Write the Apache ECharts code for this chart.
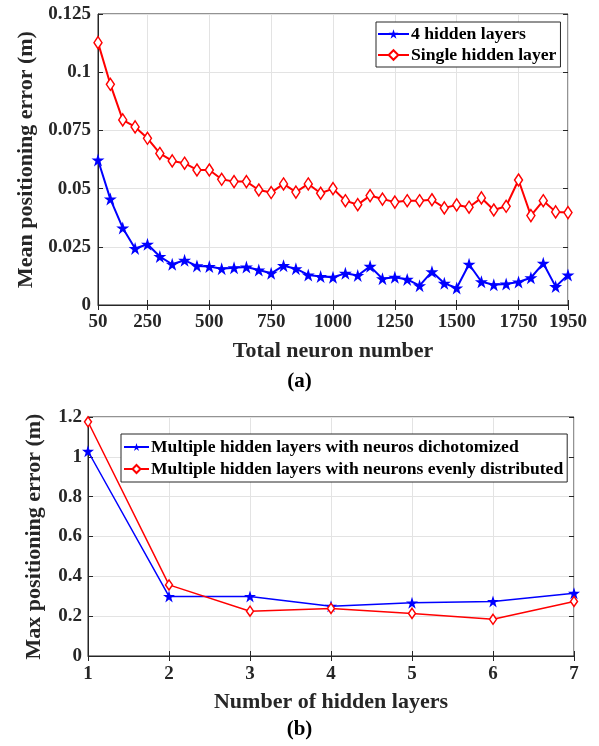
<!DOCTYPE html>
<html>
<head>
<meta charset="utf-8">
<script src="https://cdn.jsdelivr.net/npm/echarts@6/dist/echarts.min.js"></script>
<style>html,body{margin:0;padding:0;background:#fff}#c{width:599px;height:746px}</style>
</head>
<body>
<div id="c"></div>
<script>
// (a) Mean positioning error vs total neuron number
const neuronNumbers = [50,100,150,200,250,300,350,400,450,500,550,600,650,700,750,800,850,900,950,1000,
  1050,1100,1150,1200,1250,1300,1350,1400,1450,1500,1550,1600,1650,1700,1750,1800,1850,1900,1950];
const fourHiddenLayers = [0.0623,0.0455,0.0331,0.0243,0.0261,0.0208,0.0175,0.0192,0.0168,0.0165,
  0.0156,0.0160,0.0163,0.0150,0.0136,0.0169,0.0156,0.0129,0.0122,0.0119,
  0.0136,0.0127,0.0166,0.0113,0.0119,0.0110,0.0083,0.0143,0.0093,0.0073,
  0.0175,0.0100,0.0087,0.0090,0.0099,0.0117,0.0179,0.0079,0.0129];
const singleHiddenLayer = [0.1127,0.0948,0.0795,0.0765,0.0716,0.0651,0.0619,0.0609,0.0580,0.0580,
  0.0540,0.0530,0.0530,0.0494,0.0483,0.0520,0.0485,0.0520,0.0480,0.0500,
  0.0448,0.0431,0.0470,0.0455,0.0442,0.0448,0.0448,0.0452,0.0417,0.0430,
  0.0420,0.0460,0.0408,0.0424,0.0537,0.0384,0.0448,0.0400,0.0397];
const neuronTickLabels = [50,250,500,750,1000,1250,1500,1750,1950];

// (b) Max positioning error vs number of hidden layers
const hiddenLayers = [1,2,3,4,5,6,7];
const dichotomized = [1.028,0.299,0.299,0.250,0.267,0.274,0.315];
const evenlyDistributed = [1.176,0.357,0.225,0.239,0.214,0.184,0.274];

const FONT = '"Liberation Serif", "Times New Roman", serif';
const AX = '#262626';
const GRIDC = '#e3e3e3';
const STAR = 'path://M50,0 L61.2,34.5 L97.6,34.5 L68.2,55.9 L79.4,90.5 L50,69.1 L20.6,90.5 L31.8,55.9 L2.4,34.5 L38.8,34.5 Z';

const showTick = (i, v) => neuronTickLabels.includes(Number(v));
const lbl = {color: AX, fontFamily: FONT, fontWeight: 'bold', fontSize: 19};
const nameStyle = {color: AX, fontFamily: FONT, fontWeight: 'bold', fontSize: 22};

const chart = echarts.init(document.getElementById('c'), null, {renderer: 'canvas'});
chart.setOption({
  animation: false,
  backgroundColor: '#fff',
  title: [
    {text: '(a)', left: 'center', top: 366, textStyle: {fontFamily: FONT, fontWeight: 'bold', fontSize: 21, color: '#000'}},
    {text: '(b)', left: 'center', top: 714, textStyle: {fontFamily: FONT, fontWeight: 'bold', fontSize: 21, color: '#000'}}
  ],
  grid: [
    {left: 98, top: 14, width: 470, height: 291, show: true, borderColor: AX, borderWidth: 1, backgroundColor: '#fff'},
    {left: 88, top: 417, width: 486, height: 239, show: true, borderColor: AX, borderWidth: 1, backgroundColor: '#fff'}
  ],
  legend: [
    {
      data: ['4 hidden layers', 'Single hidden layer'],
      orient: 'vertical', left: 376, top: 22, itemWidth: 31, itemHeight: 12, itemGap: 3,
      padding: [3, 4, 3, 1], borderColor: AX, borderWidth: 1, backgroundColor: '#fff',
      textStyle: {fontFamily: FONT, fontWeight: 'bold', fontSize: 17.7, color: '#000', padding: [0,0,0,-3]}
    },
    {
      data: ['Multiple hidden layers with neuros dichotomized', 'Multiple hidden layers with neurons evenly distributed'],
      orient: 'vertical', left: 121, top: 434, itemWidth: 25, itemHeight: 10, itemGap: 4,
      padding: [4, 4, 4, 2], borderColor: AX, borderWidth: 1, backgroundColor: '#fff',
      textStyle: {fontFamily: FONT, fontWeight: 'bold', fontSize: 17.6, color: '#000', padding: [0,0,0,-3]}
    }
  ],
  xAxis: [
    {
      type: 'category', gridIndex: 0, data: neuronNumbers, boundaryGap: false,
      name: 'Total neuron number', nameLocation: 'middle', nameGap: 35, nameTextStyle: nameStyle,
      axisLine: {lineStyle: {color: AX}},
      axisTick: {inside: true, interval: showTick, length: 5, lineStyle: {color: AX}},
      axisLabel: Object.assign({interval: showTick, margin: 8}, lbl),
      splitLine: {show: true, interval: showTick, lineStyle: {color: GRIDC}}
    },
    {
      type: 'category', gridIndex: 0, data: neuronNumbers, boundaryGap: false, position: 'top',
      axisLine: {show: false},
      axisTick: {inside: true, interval: showTick, length: 5, lineStyle: {color: AX}},
      axisLabel: {show: false}, splitLine: {show: false}
    },
    {
      type: 'value', gridIndex: 1, min: 1, max: 7, interval: 1,
      name: 'Number of hidden layers', nameLocation: 'middle', nameGap: 35, nameTextStyle: nameStyle,
      axisLine: {lineStyle: {color: AX}},
      axisTick: {inside: true, length: 5, lineStyle: {color: AX}},
      axisLabel: Object.assign({margin: 9}, lbl),
      splitLine: {show: true, lineStyle: {color: GRIDC}}
    },
    {
      type: 'value', gridIndex: 1, min: 1, max: 7, interval: 1, position: 'top',
      axisLine: {show: false},
      axisTick: {inside: true, length: 5, lineStyle: {color: AX}},
      axisLabel: {show: false}, splitLine: {show: false}
    }
  ],
  yAxis: [
    {
      type: 'value', gridIndex: 0, min: 0, max: 0.125, interval: 0.025,
      name: 'Mean positioning error (m)', nameLocation: 'middle', nameGap: 60, nameTextStyle: nameStyle,
      axisLine: {show: true, lineStyle: {color: AX}},
      axisTick: {show: true, inside: true, length: 5, lineStyle: {color: AX}},
      axisLabel: Object.assign({margin: 7}, lbl),
      splitLine: {show: true, lineStyle: {color: GRIDC}}
    },
    {
      type: 'value', gridIndex: 0, min: 0, max: 0.125, interval: 0.025, position: 'right',
      axisLine: {show: false},
      axisTick: {show: true, inside: true, length: 5, lineStyle: {color: AX}},
      axisLabel: {show: false}, splitLine: {show: false}
    },
    {
      type: 'value', gridIndex: 1, min: 0, max: 1.2, interval: 0.2,
      name: 'Max positioning error (m)', nameLocation: 'middle', nameGap: 43, nameTextStyle: nameStyle,
      axisLine: {show: true, lineStyle: {color: AX}},
      axisTick: {show: true, inside: true, length: 5, lineStyle: {color: AX}},
      axisLabel: Object.assign({margin: 6}, lbl),
      splitLine: {show: true, lineStyle: {color: GRIDC}}
    },
    {
      type: 'value', gridIndex: 1, min: 0, max: 1.2, interval: 0.2, position: 'right',
      axisLine: {show: false},
      axisTick: {show: true, inside: true, length: 5, lineStyle: {color: AX}},
      axisLabel: {show: false}, splitLine: {show: false}
    }
  ],
  series: [
    {
      name: '4 hidden layers', type: 'line', xAxisIndex: 0, yAxisIndex: 0,
      data: fourHiddenLayers, symbol: STAR, symbolSize: 13, showAllSymbol: true,
      lineStyle: {color: '#0000ff', width: 2}, itemStyle: {color: '#0000ff'}
    },
    {
      name: 'Single hidden layer', type: 'line', xAxisIndex: 0, yAxisIndex: 0,
      data: singleHiddenLayer, symbol: 'diamond', symbolSize: [8, 12], showAllSymbol: true,
      lineStyle: {color: '#ff0000', width: 2}, itemStyle: {color: '#fff', borderColor: '#ff0000', borderWidth: 1.5}
    },
    {
      name: 'Multiple hidden layers with neuros dichotomized', type: 'line', xAxisIndex: 2, yAxisIndex: 2,
      data: hiddenLayers.map((x, i) => [x, dichotomized[i]]), symbol: STAR, symbolSize: 12,
      lineStyle: {color: '#0000ff', width: 1.5}, itemStyle: {color: '#0000ff'}
    },
    {
      name: 'Multiple hidden layers with neurons evenly distributed', type: 'line', xAxisIndex: 2, yAxisIndex: 2,
      data: hiddenLayers.map((x, i) => [x, evenlyDistributed[i]]), symbol: 'diamond', symbolSize: [7, 10],
      lineStyle: {color: '#ff0000', width: 1.5}, itemStyle: {color: '#fff', borderColor: '#ff0000', borderWidth: 1.5}
    }
  ]
});
</script>
</body>
</html>
